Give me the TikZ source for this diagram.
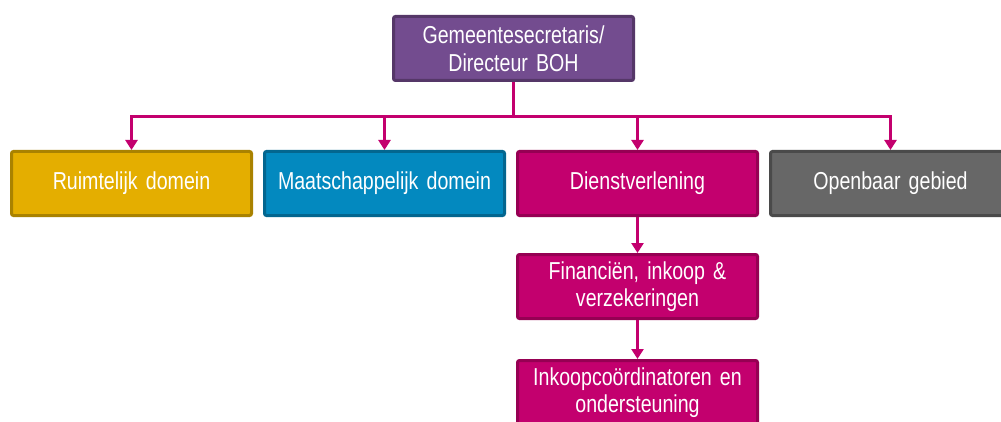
\documentclass[tikz,border=0pt]{standalone}
\usepackage{fontspec}
\setmainfont{Liberation Sans}[FakeStretch=0.8]
\usetikzlibrary{positioning,arrows.meta}
\definecolor{purplefill}{HTML}{734C8F}
\definecolor{purpleline}{HTML}{553768}
\definecolor{goldfill}{HTML}{E4AE00}
\definecolor{goldline}{HTML}{A98200}
\definecolor{bluefill}{HTML}{0389BF}
\definecolor{blueline}{HTML}{03668F}
\definecolor{magfill}{HTML}{C3006E}
\definecolor{magline}{HTML}{960053}
\definecolor{greyfill}{HTML}{676767}
\definecolor{greyline}{HTML}{4A4A4A}
\begin{document}
\begin{tikzpicture}[x=1pt,y=1pt,node distance=10pt,
    unit/.style={rectangle,draw,line width=3pt,rounded corners=2pt,
        minimum width=240pt,minimum height=64pt,text width=232pt,
        align=center,text=white,font=\fontsize{24.5}{27.5}\selectfont},
    conn/.style={draw=magfill,line width=3pt,-{Triangle[width=12pt,length=10pt]}}
                   ]
    \clip (0,0) rectangle (1001,421);

    \node[unit,fill=purplefill,draw=purpleline](top) at (513.5,372.5){Gemeentesecretaris/\\Directeur BOH};
    \node[unit,fill=goldfill,draw=goldline](ruimte) at (131.5,237.5){Ruimtelijk domein};
    \node[unit,fill=bluefill,draw=blueline,right=of ruimte](maatsch){Maatschappelijk domein};
    \node[unit,fill=magfill,draw=magline,right=of maatsch](dienst){Dienstverlening};
    \node[unit,fill=greyfill,draw=greyline,right=of dienst](openbaar){Openbaar gebied};
    \node[unit,fill=magfill,draw=magline,below=36pt of dienst](fin){Financiën, inkoop \&\\verzekeringen};
    \node[unit,fill=magfill,draw=magline,below=39pt of fin](inkoop){Inkoopcoördinatoren en\\ondersteuning};

    \coordinate (bus) at (513.5,304);
    \draw[conn,-] (top) -- (bus);
    \path[conn] (bus) -| (ruimte);
    \path[conn] (bus) -| (maatsch);
    \path[conn] (bus) -| (dienst);
    \path[conn] (bus) -| (openbaar);
    \path[conn] (dienst) -- (fin);
    \path[conn] (fin) -- (inkoop);

\end{tikzpicture}
\end{document}
